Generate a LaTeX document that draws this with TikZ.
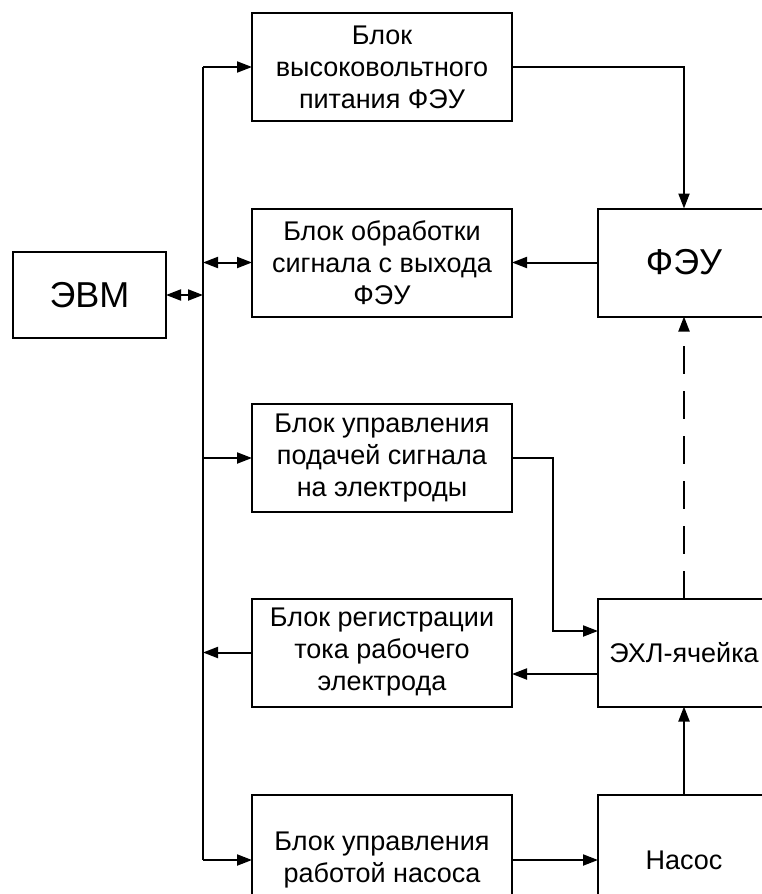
\documentclass[tikz,border=0pt]{standalone}
\usepackage{fontspec}
\setmainfont{Liberation Sans}
\usepackage{tikz}
\usetikzlibrary{
	arrows.meta,
	calc
}
\newcommand{\blocktext}{\fontsize{27}{32}\selectfont}
\newcommand{\bigtext}{\fontsize{36}{40}\selectfont}

\begin{document}
\begin{tikzpicture}[x=1pt,y=-1pt,line width=2pt,
		block/.style={draw,rectangle,inner sep=0pt,outer sep=0pt,align=center,
			minimum width=260pt,minimum height=108pt,font=\blocktext},
		arr/.style={-{Triangle[length=15pt,width=11pt]}},
		biarr/.style={{Triangle[length=15pt,width=11pt]}-{Triangle[length=15pt,width=11pt]}}]
			\useasboundingbox (0,0) rectangle (762,894);
			\clip (0,0) rectangle (762,894);

			\node[block,minimum width=153pt,minimum height=86pt,font=\bigtext] (evm) at (89.5,295) {ЭВМ};
			\node[block] (hv)   at (382,67)    {Блок\\высоковольтного\\питания ФЭУ};
			\node[block] (proc) at (382,262.5) {Блок обработки\\сигнала с выхода\\ФЭУ};
			\node[block] (ctrl) at (382,458)   {Блок управления\\подачей сигнала\\на электроды};
			\node[block] (reg)  at (382,652.5) {Блок регистрации\\тока рабочего\\электрода};
			\node[block,minimum height=130pt] (pumpctl) at (382,860) {Блок управления\\работой насоса};
			\node[block,minimum width=172pt,font=\bigtext] (feu)  at (684,262.5) {ФЭУ};
			\node[block,minimum width=172pt] (cell) at (684,652.5) {ЭХЛ-ячейка};
			\node[block,minimum width=172pt,minimum height=130pt] (pump) at (684,860) {Насос};

			% common bus
			\coordinate (bus) at (203,0);
			\coordinate (turn) at (553,0);
			\draw (bus |- hv.west) -- (bus |- pumpctl.west);

			\draw[biarr] (evm.east) -- (bus |- evm.east);
			\draw[arr] (bus |- hv.west) -- (hv.west);
			\draw[biarr] (bus |- proc.west) -- (proc.west);
			\draw[arr] (bus |- ctrl.west) -- (ctrl.west);
			\draw[arr] (reg.west) -- (bus |- reg.west);
			\draw[arr] (bus |- pumpctl.west) -- (pumpctl.west);

			\draw[arr] (hv.east) -| (feu.north);
			\draw[arr] (feu.west) -- (proc.east);
			\draw[arr] (ctrl.east) -- (turn |- ctrl.east) -- ($(turn |- cell.west)+(0,-21.5)$) -- ($(cell.west)+(0,-21.5)$);
			\draw[arr] ($(cell.west)+(0,21.5)$) -- ($(reg.east)+(0,21.5)$);
			\draw[arr] (pumpctl.east) -- (pump.west);
			\draw[arr] (pump.north) -- (cell.south);
			\draw[arr,dash pattern=on 28pt off 17pt] (cell.north) -- (feu.south);
		\end{tikzpicture}
\end{document}
